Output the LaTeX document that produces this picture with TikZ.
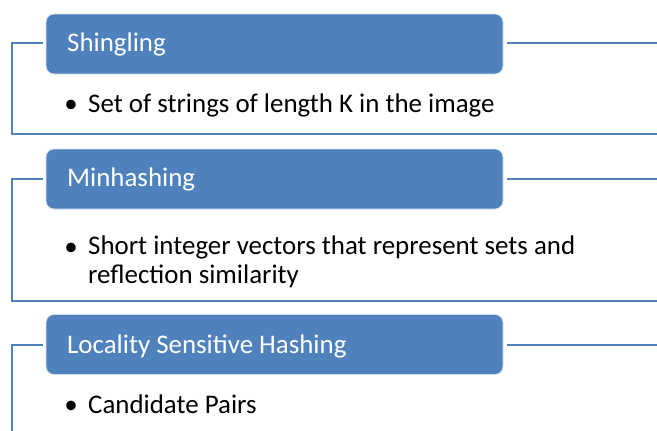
\documentclass[tikz,border=0pt]{standalone}
\usepackage{fontspec}
\setmainfont{Carlito}
\definecolor{accent}{HTML}{4F81BD}
\begin{document}
\begin{tikzpicture}[x=1pt,y=-1pt,
  hdrbox/.style={draw=white!75!accent,line width=0.8pt,fill=accent,rounded corners=8pt,minimum width=457pt,minimum height=60pt,inner sep=0pt},
  hdrtext/.style={anchor=base west,inner sep=0pt,text=white,font=\fontsize{26.9}{29}\selectfont},
  itemtext/.style={anchor=base west,inner sep=0pt,align=left,font=\fontsize{26.9}{28.5}\selectfont},
  bul/.style={inner sep=0pt,font=\fontsize{26.9}{29}\selectfont},
  bracket/.style={draw=accent,line width=2.3pt}]
\useasboundingbox (0,0) rectangle (657,431);
% group 1
\node[hdrbox] (h1) at (274.5,44) {};
\node[hdrtext] (t1) at (67,52) {Shingling};
\node[bul,anchor=base] (b1) at (71,112) {•};
\node[itemtext] (i1) at (88,112) {Set of strings of length K in the image};
\coordinate (l1a) at (43,43);
\coordinate (l1b) at (12,43);
\coordinate (l1c) at (12,134);
\coordinate (l1d) at (657,134);
\coordinate (r1a) at (507,43);
\coordinate (r1b) at (657,43);
\draw[bracket] (l1a) -- (l1b) -- (l1c) -- (l1d);
\draw[bracket] (r1a) -- (r1b);
% group 2
\node[hdrbox] (h2) at (274.5,179) {};
\node[hdrtext] (t2) at (67,186) {Minhashing};
\node[bul,anchor=base] (b2) at (71,255) {•};
\node[itemtext] (i2) at (88,283) {Short integer vectors that represent sets and\\reflection similarity};
\coordinate (l2a) at (43,179);
\coordinate (l2b) at (12,179);
\coordinate (l2c) at (12,301);
\coordinate (l2d) at (657,301);
\coordinate (r2a) at (507,179);
\coordinate (r2b) at (657,179);
\draw[bracket] (l2a) -- (l2b) -- (l2c) -- (l2d);
\draw[bracket] (r2a) -- (r2b);
% group 3
\node[hdrbox] (h3) at (274.5,344.5) {};
\node[hdrtext] (t3) at (67,353) {Locality Sensitive Hashing};
\node[bul,anchor=base] (b3) at (71,413) {•};
\node[itemtext] (i3) at (88,413) {Candidate Pairs};
\coordinate (l3a) at (43,345);
\coordinate (l3b) at (12,345);
\coordinate (l3c) at (12,432);
\coordinate (r3a) at (507,345);
\coordinate (r3b) at (657,345);
\draw[bracket] (l3a) -- (l3b) -- (l3c);
\draw[bracket] (r3a) -- (r3b);
\end{tikzpicture}
\end{document}
